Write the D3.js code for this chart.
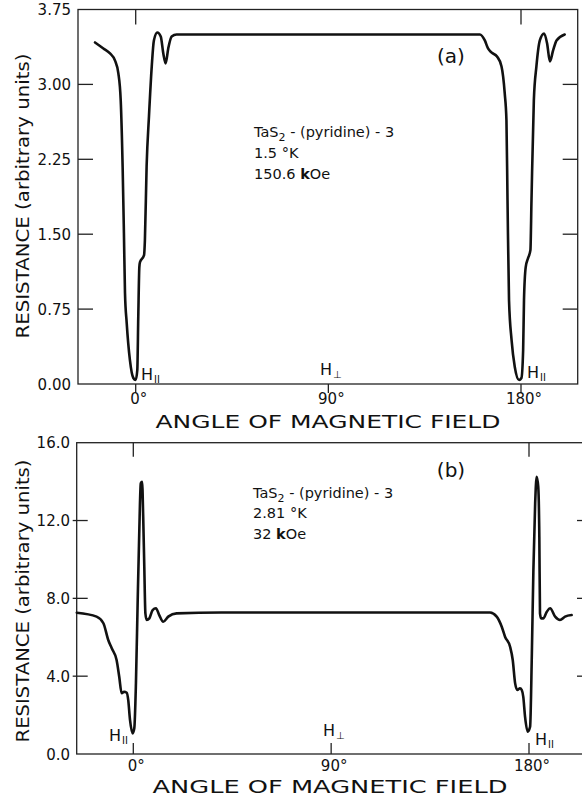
<!DOCTYPE html>
<html>
<head>
<meta charset="utf-8">
<script src="https://cdn.jsdelivr.net/npm/d3@7"></script>
<style>
  html, body { margin: 0; padding: 0; background: #fff; }
  svg { display: block; }
  text { font-family: "DejaVu Sans", sans-serif; fill: #111; }
</style>
</head>
<body>
<svg id="chart" width="582" height="797"></svg>
<script>
// Panel (a): TaS2-(pyridine), 1.5 K, 150.6 kOe
const angleA = [-19, -15.1, -12, -9.7, -8.1, -7.0, -6.1, -5.5, -5.0, -4.2, -2.7, -1.1, 0, 0.75, 1.2, 1.7, 2.0, 3.9, 4.3, 5.1, 6.2, 7.5, 8.5, 10.1, 11.7, 12.9, 14.0, 15.2, 16.8, 19.1, 40, 90, 140, 160.8, 163.1, 164.6, 166.2, 168.8, 170.9, 172.4, 173.2, 173.7, 174.4, 175.6, 177.1, 179.1, 180.2, 181.0, 181.4, 182.2, 183.3, 184.4, 184.9, 186.0, 187.2, 188.8, 190.8, 192.2, 193.5, 195.0, 196.6, 200.4];
const resistA = [3.42, 3.36, 3.31, 3.24, 3.11, 2.84, 2.17, 1.51, 0.91, 0.61, 0.24, 0.06, 0.04, 0.14, 0.67, 1.17, 1.22, 1.29, 1.44, 2.18, 2.68, 3.18, 3.44, 3.52, 3.48, 3.31, 3.21, 3.36, 3.48, 3.50, 3.50, 3.50, 3.50, 3.50, 3.44, 3.36, 3.32, 3.28, 3.18, 2.91, 2.64, 1.84, 0.84, 0.44, 0.17, 0.04, 0.06, 0.34, 0.84, 1.17, 1.26, 1.34, 1.84, 2.84, 3.18, 3.44, 3.51, 3.41, 3.23, 3.34, 3.44, 3.50];

// Panel (b): TaS2-(pyridine), 2.81 K, 32 kOe
const angleB = [-25.7, -16.7, -13.6, -11.4, -9.8, -7.6, -6.4, -5.3, -4.2, -3.0, -2.3, -1.5, -0.3, 0.45, 1.2, 2.0, 2.7, 3.4, 4.0, 4.5, 5.0, 5.5, 6.1, 7.3, 8.8, 10.3, 11.8, 13.6, 15.9, 19.7, 40, 90, 140, 162.3, 165.3, 167.6, 169.1, 171.4, 172.6, 173.7, 174.7, 175.9, 176.7, 177.4, 178.2, 179.4, 180.5, 181.3, 182.0, 182.8, 183.5, 184.2, 184.7, 185.0, 185.5, 186.5, 188.1, 189.6, 191.9, 194.1, 196.4, 199.4];
const resistB = [7.26, 7.06, 6.72, 5.86, 5.43, 4.83, 3.97, 3.12, 3.20, 3.15, 2.77, 1.75, 1.06, 1.32, 3.63, 7.91, 11.34, 13.91, 13.99, 12.2, 9.62, 7.23, 6.89, 6.97, 7.40, 7.49, 7.14, 6.80, 7.06, 7.23, 7.27, 7.27, 7.27, 7.27, 7.06, 6.54, 6.03, 5.51, 4.83, 3.63, 3.29, 3.38, 3.29, 2.94, 1.92, 1.15, 1.40, 5.17, 9.46, 12.88, 14.25, 13.74, 11.17, 7.23, 6.97, 6.97, 7.31, 7.49, 7.06, 6.89, 7.06, 7.14];

const ticksA = [0, 0.75, 1.50, 2.25, 3.00, 3.75];
const ticksB = [0, 4, 8, 12, 16];
const angleTicks = [0, 90, 180];
const angleLabels = ["0°", "90°", "180°"];
const noteA = ["1.5 °K", "150.6 "];
const noteB = ["2.81 °K", "32 "];

const svg = d3.select("#chart");

function panel(cfg) {
  const x = d3.scaleLinear().domain([0, 180]).range(cfg.xr);
  const y = d3.scaleLinear().domain([0, cfg.yTicks[cfg.yTicks.length - 1]]).range(cfg.yr);
  const g = svg.append("g");
  const [x0, x1] = cfg.box;
  const yb = y(0), yt = y(cfg.yTicks[cfg.yTicks.length - 1]);

  // frame
  g.append("rect").attr("x", x0).attr("y", yt).attr("width", x1 - x0).attr("height", yb - yt)
    .attr("fill", "none").attr("stroke", "#222").attr("stroke-width", 1.3);

  const inner = cfg.yTicks.slice(1, -1);
  // left ticks
  g.selectAll(".lt").data(inner).join("line")
    .attr("x1", x0 + cfg.leftTick[0]).attr("x2", x0 + cfg.leftTick[1])
    .attr("y1", d => y(d)).attr("y2", d => y(d))
    .attr("stroke", "#222").attr("stroke-width", 1.3);
  // right ticks
  g.selectAll(".rt").data(inner).join("line")
    .attr("x1", x1 - cfg.rightTick).attr("x2", x1)
    .attr("y1", d => y(d)).attr("y2", d => y(d))
    .attr("stroke", "#222").attr("stroke-width", 1.3);
  // left labels
  g.selectAll(".yl").data(cfg.yTicks).join("text")
    .attr("x", cfg.labelX).attr("y", d => y(d) + 5.5)
    .attr("text-anchor", "end").attr("font-size", 15)
    .text(d => cfg.fmt(d));

  // bottom angle ticks
  g.selectAll(".bt").data(angleTicks).join("line")
    .attr("x1", d => x(d)).attr("x2", d => x(d))
    .attr("y1", yb + cfg.bottomTick[0]).attr("y2", yb + cfg.bottomTick[1])
    .attr("stroke", "#222").attr("stroke-width", 1.3);
  // top angle ticks
  g.selectAll(".tt").data([0, 180]).join("line")
    .attr("x1", d => x(d)).attr("x2", d => x(d))
    .attr("y1", yt).attr("y2", yt + cfg.topTick)
    .attr("stroke", "#222").attr("stroke-width", 1.3);
  // angle labels
  g.selectAll(".al").data(angleTicks).join("text")
    .attr("x", d => x(d) + 3).attr("y", cfg.angleLabelY)
    .attr("text-anchor", "middle").attr("font-size", 15)
    .text((d, i) => angleLabels[i]);

  // axis titles
  g.append("text").attr("x", cfg.xTitle[0]).attr("y", cfg.xTitle[1])
    .attr("text-anchor", "middle").attr("font-size", 17)
    .attr("textLength", cfg.xTitle[2]).attr("lengthAdjust", "spacingAndGlyphs")
    .text("ANGLE OF MAGNETIC FIELD");
  g.append("text")
    .attr("transform", `translate(${cfg.yTitle[0]},${cfg.yTitle[1]}) rotate(-90)`)
    .attr("text-anchor", "middle").attr("font-size", 18)
    .attr("textLength", cfg.yTitle[2]).attr("lengthAdjust", "spacingAndGlyphs")
    .text("RESISTANCE  (arbitrary units)");

  // curve
  const line = d3.line().x(d => x(d[0])).y(d => y(d[1])).curve(d3.curveMonotoneX);
  g.append("path").datum(cfg.angle.map((a, i) => [a, cfg.resist[i]]))
    .attr("d", line).attr("fill", "none").attr("stroke", "#111")
    .attr("stroke-width", 2.6).attr("stroke-linejoin", "round").attr("stroke-linecap", "round");

  // H labels
  function hLabel(px, py, sub) {
    const t = g.append("text").attr("x", px).attr("y", py).attr("font-size", 16);
    t.append("tspan").text("H");
    t.append("tspan").attr("font-size", 10).attr("dy", 3).attr("dx", 1).text(sub);
  }
  cfg.hpar.forEach(p => hLabel(p[0], p[1], "II"));
  hLabel(cfg.hperp[0], cfg.hperp[1], "⊥");

  // panel tag
  g.append("text").attr("x", cfg.tag[0]).attr("y", cfg.tag[1]).attr("text-anchor", "middle")
    .attr("font-family", "Liberation Serif, serif").attr("font-size", 20).text(cfg.tagText);

  // sample note
  const nx = cfg.note[0];
  const t1 = g.append("text").attr("x", nx).attr("y", cfg.note[1]).attr("font-size", 14.5);
  t1.append("tspan").text("TaS");
  t1.append("tspan").attr("font-size", 11).attr("dy", 4).text("2");
  t1.append("tspan").attr("dy", -4).text(" - (pyridine) - 3");
  g.append("text").attr("x", nx).attr("y", cfg.note[2]).attr("font-size", 14.5).text(cfg.noteText[0]);
  const t3 = g.append("text").attr("x", nx).attr("y", cfg.note[3]).attr("font-size", 14.5);
  t3.append("tspan").text(cfg.noteText[1]);
  t3.append("tspan").attr("font-weight", "bold").text("k");
  t3.append("tspan").text("Oe");
}

panel({
  angle: angleA, resist: resistA, yTicks: ticksA, fmt: d3.format(".2f"),
  xr: [135.7, 521], yr: [384, 9.5], box: [78, 577.7],
  leftTick: [0, 15], rightTick: 15, bottomTick: [0, 9], topTick: 15,
  labelX: 71, angleLabelY: 404,
  xTitle: [328, 428, 345], yTitle: [29, 196, 285],
  hpar: [[141, 380], [527, 378]], hperp: [320, 375],
  tag: [451, 63], tagText: "(a)",
  note: [254, 137, 158, 179], noteText: noteA
});

panel({
  angle: angleB, resist: resistB, yTicks: ticksB, fmt: d3.format(".1f"),
  xr: [133.3, 529], yr: [754, 442.7], box: [76.7, 586],
  leftTick: [-4, 11], rightTick: 9, bottomTick: [-11, 0], topTick: 14,
  labelX: 70, angleLabelY: 771,
  xTitle: [330, 793, 355], yTitle: [29, 601, 283],
  hpar: [[109, 741], [535, 745]], hperp: [323, 736],
  tag: [451, 477], tagText: "(b)",
  note: [253, 498, 518, 539], noteText: noteB
});
</script>
</body>
</html>
